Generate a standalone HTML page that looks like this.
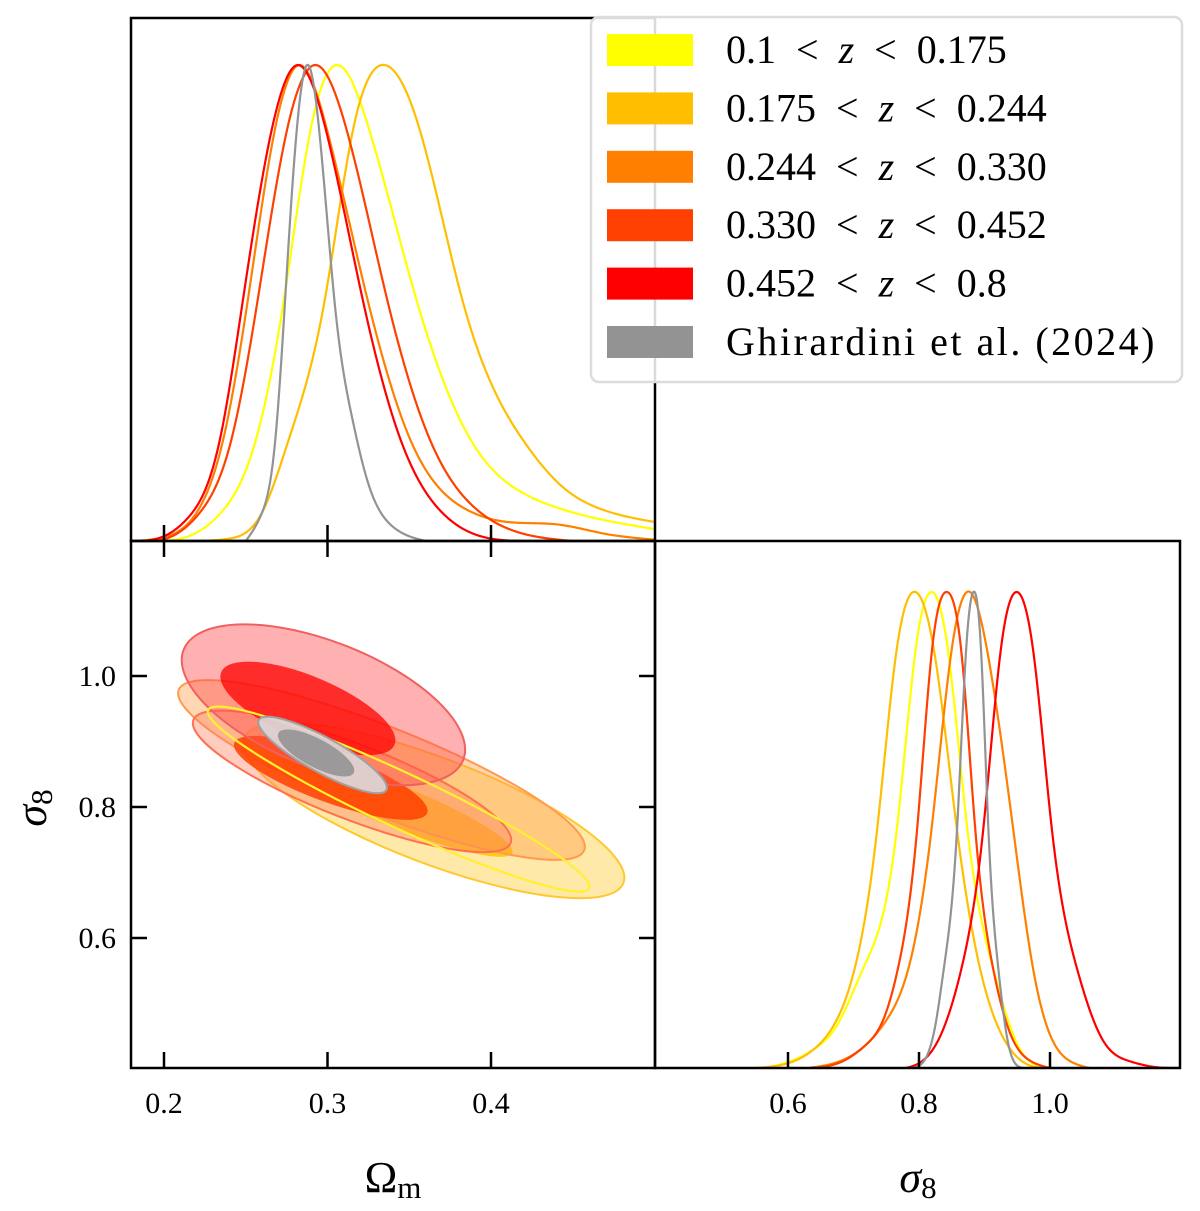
<!DOCTYPE html>
<html><head><meta charset="utf-8"><style>
body{margin:0;background:#fff}
svg text{font-family:"Liberation Serif","DejaVu Serif",serif}
</style></head><body>
<svg id="c" width="1200" height="1206" viewBox="0 0 1200 1206" xmlns="http://www.w3.org/2000/svg"></svg>
<script>
const seriesNames=["0.1 < z < 0.175","0.175 < z < 0.244","0.244 < z < 0.330","0.330 < z < 0.452","0.452 < z < 0.8","Ghirardini et al. (2024)"];
const seriesColors=["#ffff00","#ffbf00","#ff8000","#ff4000","#ff0000","#939393"];
const omTicks=[0.2,0.3,0.4];
const s8Ticks=[0.6,0.8,1.0];
// 1D Omega_m posteriors [om, p]
const omYellow=[[0.19,0],[0.215,0.01],[0.235,0.06],[0.256,0.21],[0.273,0.5],[0.29,0.87],[0.306,1],[0.325,0.87],[0.355,0.5],[0.388,0.21],[0.42,0.1],[0.445,0.065],[0.475,0.04],[0.5,0.025]];
const omGold=[[0.22,0],[0.24,0.005],[0.26,0.06],[0.276,0.21],[0.298,0.5],[0.316,0.87],[0.335,1],[0.355,0.88],[0.383,0.5],[0.42,0.21],[0.445,0.11],[0.465,0.07],[0.5,0.04]];
const omOrange=[[0.18,0],[0.2,0.008],[0.22,0.06],[0.236,0.21],[0.251,0.5],[0.267,0.85],[0.283,1],[0.3,0.86],[0.325,0.5],[0.351,0.21],[0.383,0.07],[0.41,0.04],[0.44,0.035],[0.47,0.015],[0.5,0.003]];
const omOrangeRed=[[0.18,0],[0.205,0.01],[0.222,0.06],[0.241,0.21],[0.257,0.5],[0.275,0.86],[0.293,1],[0.312,0.86],[0.337,0.5],[0.363,0.21],[0.39,0.07],[0.42,0.015],[0.45,0]];
const omRed=[[0.18,0],[0.2,0.01],[0.215,0.05],[0.234,0.21],[0.248,0.5],[0.265,0.85],[0.282,1],[0.3,0.85],[0.322,0.5],[0.345,0.21],[0.37,0.06],[0.4,0.005],[0.42,0]];
const omGray=[[0.25,0],[0.26,0.06],[0.268,0.21],[0.278,0.72],[0.2875,1],[0.295,0.86],[0.305,0.48],[0.315,0.26],[0.325,0.12],[0.34,0.03],[0.36,0]];
// 1D sigma_8 posteriors [s8, p]
const s8Yellow=[[0.56,0],[0.6,0.012],[0.64,0.04],[0.675,0.09],[0.715,0.21],[0.766,0.5],[0.795,0.88],[0.82,1],[0.845,0.87],[0.874,0.5],[0.913,0.21],[0.95,0.05],[0.985,0.003],[1.01,0]];
const s8Gold=[[0.55,0],[0.6,0.01],[0.64,0.04],[0.67,0.09],[0.702,0.21],[0.736,0.5],[0.765,0.87],[0.795,1],[0.825,0.86],[0.858,0.5],[0.893,0.21],[0.93,0.06],[0.97,0.005],[1.0,0]];
const s8Orange=[[0.63,0],[0.67,0.01],[0.72,0.05],[0.75,0.1],[0.784,0.21],[0.819,0.5],[0.85,0.88],[0.878,1],[0.905,0.87],[0.944,0.5],[0.974,0.21],[1.0,0.07],[1.03,0.015],[1.06,0]];
const s8OrangeRed=[[0.64,0],[0.68,0.012],[0.72,0.05],[0.745,0.1],[0.768,0.21],[0.797,0.5],[0.82,0.88],[0.843,1],[0.865,0.87],[0.886,0.5],[0.913,0.21],[0.94,0.07],[0.97,0.015],[1.0,0]];
const s8Red=[[0.78,0],[0.8,0.01],[0.83,0.06],[0.865,0.21],[0.898,0.5],[0.925,0.88],[0.949,1],[0.975,0.87],[1.003,0.5],[1.041,0.21],[1.08,0.06],[1.12,0.015],[1.16,0.002],[1.2,0]];
const s8Gray=[[0.79,0],[0.81,0.02],[0.825,0.09],[0.838,0.21],[0.858,0.5],[0.872,0.88],[0.883,1],[0.895,0.87],[0.906,0.5],[0.921,0.21],[0.935,0.06],[0.95,0.005],[0.96,0]];
// 2D contours: major-axis endpoints [om1,s1,om2,s2], axis ratio
const contGoldOuter=[0.249,0.905,0.481,0.684,0.26];
const contGoldInner=[0.272,0.872,0.413,0.730,0.17];
const contOrangeOuter=[0.209,0.979,0.457,0.734,0.2];
const contOrangeRedOuter=[0.218,0.933,0.412,0.745,0.22];
const contOrangeRedInner=[0.243,0.898,0.361,0.791,0.24];
const contRedOuter=[0.212,1.040,0.383,0.872,0.42];
const contRedInner=[0.235,1.006,0.341,0.895,0.34];
const contYellow=[0.227,0.948,0.460,0.676,0.13];
const contGrayOuter=[0.258,0.933,0.336,0.826,0.24];
const contGrayInner=[0.270,0.913,0.316,0.852,0.33];

const NS="http://www.w3.org/2000/svg";
const svg=document.getElementById('c');
function mk(t,a,p){const e=document.createElementNS(NS,t);for(const k in a)e.setAttribute(k,a[k]);(p||svg).appendChild(e);return e;}
const L=131,M=655,R=1180,T=18,MID=541,B=1068;
const xOm=v=>164+(v-0.2)*1635;
const yS8=v=>676-(v-1.0)*655;
const xS8=v=>788+(v-0.6)*655;
const H=476;
const defs=mk('defs',{});
const c1=mk('clipPath',{id:'cp1'},defs);mk('rect',{x:L,y:T,width:M-L,height:MID-T},c1);
const c2=mk('clipPath',{id:'cp2'},defs);mk('rect',{x:L,y:MID,width:M-L,height:B-MID},c2);
const c3=mk('clipPath',{id:'cp3'},defs);mk('rect',{x:M,y:MID,width:R-M,height:B-MID},c3);

// natural cubic spline through knots (pixel x, density), sampled densely
function splineSamples(pts){const n=pts.length,x=pts.map(p=>p[0]),y=pts.map(p=>p[1]);
 const h=[],al=[],l=[1],mu=[0],z=[0],c=new Array(n).fill(0);
 for(let i=0;i<n-1;i++)h[i]=x[i+1]-x[i];
 for(let i=1;i<n-1;i++)al[i]=3/h[i]*(y[i+1]-y[i])-3/h[i-1]*(y[i]-y[i-1]);
 for(let i=1;i<n-1;i++){l[i]=2*(x[i+1]-x[i-1])-h[i-1]*mu[i-1];mu[i]=h[i]/l[i];z[i]=(al[i]-h[i-1]*z[i-1])/l[i];}
 const b=[],d=[];
 for(let j=n-2;j>=0;j--){c[j]=z[j]-mu[j]*c[j+1];b[j]=(y[j+1]-y[j])/h[j]-h[j]*(c[j+1]+2*c[j])/3;d[j]=(c[j+1]-c[j])/(3*h[j]);}
 const out=[];
 for(let j=0;j<n-1;j++){for(let k=0;k<16;k++){const t=h[j]*k/16;out.push([x[j]+t,y[j]+b[j]*t+c[j]*t*t+d[j]*t*t*t]);}}
 out.push([x[n-1],y[n-1]]);return out;}
function curve(data,xf,base,col,clip,name){
 const s=splineSamples(data.map(d=>[xf(d[0]),d[1]]));
 const path=s.map((p,i)=>(i?'L':'M')+p[0].toFixed(2)+','+(base-Math.max(0,p[1])*H).toFixed(2)).join(' ');
 const p=mk('path',{d:path,fill:'none',stroke:col,'stroke-width':2.2,'stroke-linejoin':'round','clip-path':'url(#'+clip+')'});
 
 }
function ell(c,fill,fop,stroke,sw,name){
 const x1=xOm(c[0]),y1=yS8(c[1]),x2=xOm(c[2]),y2=yS8(c[3]);
 const cx=(x1+x2)/2,cy=(y1+y2)/2,rx=Math.hypot(x2-x1,y2-y1)/2,ry=rx*c[4];
 const ang=Math.atan2(y2-y1,x2-x1)*180/Math.PI;
 const e=mk('ellipse',{cx:cx,cy:cy,rx:rx,ry:ry,transform:'rotate('+ang+' '+cx+' '+cy+')',fill:fill,'fill-opacity':fop,stroke:stroke,'stroke-width':sw,'clip-path':'url(#cp2)'});
 
 }

const omSets=[omYellow,omGold,omOrange,omOrangeRed,omRed,omGray];
omSets.forEach((s,i)=>curve(s,xOm,MID,seriesColors[i],'cp1','om-posterior-'+i));
const s8Sets=[s8Yellow,s8Gold,s8Orange,s8OrangeRed,s8Red,s8Gray];
s8Sets.forEach((s,i)=>curve(s,xS8,B,seriesColors[i],'cp3','s8-posterior-'+i));
ell(contGoldOuter,'#ffcf40',0.45,'#ffc830',2,'contour-gold-outer');
ell(contGoldInner,'#ffc400',0.85,'none',0,'contour-gold-inner');
ell(contOrangeOuter,'#ff9a40',0.4,'#ff9a50',2,'contour-orange-outer');
ell(contOrangeRedOuter,'#ff8060',0.4,'#ff7050',2,'contour-orangered-outer');
ell(contOrangeRedInner,'#ff4000',0.85,'none',0,'contour-orangered-inner');
ell(contRedOuter,'#ff5050',0.45,'#f06060',2,'contour-red-outer');
ell(contRedInner,'#ff0000',0.75,'none',0,'contour-red-inner');
ell(contYellow,'none',0,'#fff030',2.2,'contour-yellow');
ell(contGrayOuter,'#dcd4d4',0.95,'#a0a0a0',2,'contour-gray-outer');
ell(contGrayInner,'#939393',0.9,'none',0,'contour-gray-inner');

function frame(x,y,w,h,n){const r=mk('rect',{x:x,y:y,width:w,height:h,fill:'none',stroke:'#000','stroke-width':2.5});}
frame(L,T,M-L,MID-T,'omega-m-panel');frame(L,MID,M-L,B-MID,'contour-panel');frame(M,MID,R-M,B-MID,'sigma8-panel');
const tk=16;
omTicks.forEach(v=>{const x=xOm(v);
 mk('line',{x1:x,x2:x,y1:MID,y2:MID-tk,stroke:'#000','stroke-width':2.5});
 mk('line',{x1:x,x2:x,y1:MID,y2:MID+tk,stroke:'#000','stroke-width':2.5});
 mk('line',{x1:x,x2:x,y1:B,y2:B-tk,stroke:'#000','stroke-width':2.5});
 const t=mk('text',{x:x,y:1113,'font-size':30,'text-anchor':'middle'});t.textContent=v.toFixed(1);
 });
s8Ticks.forEach(v=>{const y=yS8(v);
 mk('line',{x1:L,x2:L+tk,y1:y,y2:y,stroke:'#000','stroke-width':2.5});
 mk('line',{x1:M,x2:M-tk,y1:y,y2:y,stroke:'#000','stroke-width':2.5});
 const t=mk('text',{x:116,y:y+10,'font-size':30,'text-anchor':'end'});t.textContent=v.toFixed(1);
 
 const x=xS8(v);
 mk('line',{x1:x,x2:x,y1:B,y2:B-tk,stroke:'#000','stroke-width':2.5});
 const t2=mk('text',{x:x,y:1113,'font-size':30,'text-anchor':'middle'});t2.textContent=v.toFixed(1);
 });
let t=mk('text',{x:393,y:1192,'font-size':44,'text-anchor':'middle'});t.innerHTML='Ω<tspan font-size="31" dy="6">m</tspan>';

t=mk('text',{x:918,y:1192,'font-size':44,'text-anchor':'middle','font-style':'italic'});t.innerHTML='σ<tspan font-size="31" dy="6" font-style="normal">8</tspan>';

t=mk('text',{x:0,y:0,'font-size':44,'text-anchor':'middle','font-style':'italic',transform:'translate(46,808) rotate(-90)'});t.innerHTML='σ<tspan font-size="31" dy="6" font-style="normal">8</tspan>';

const lg=mk('g',{});
mk('rect',{x:591,y:17,width:591,height:365,rx:8,fill:'#fff','fill-opacity':0.85,stroke:'#dcdcdc','stroke-width':2.5},lg);
seriesNames.forEach((n,i)=>{const cy=50+i*58.4;
 const r=mk('rect',{x:607,y:cy-16,width:86,height:32,fill:seriesColors[i]},lg);
 
 const tx=mk('text',{x:726,y:cy+13,'font-size':40},lg);
 if(n.indexOf(' z ')>=0){const parts=n.split(' z ');
  tx.innerHTML=parts[0].replace(' <','\u00a0\u00a0<')+'\u00a0\u00a0<tspan font-style="italic">z</tspan>\u00a0\u00a0'+parts[1].replace('< ','<\u00a0\u00a0');}
 else{tx.textContent=n;tx.setAttribute('letter-spacing','2.5');}
 });
</script>
</body></html>
